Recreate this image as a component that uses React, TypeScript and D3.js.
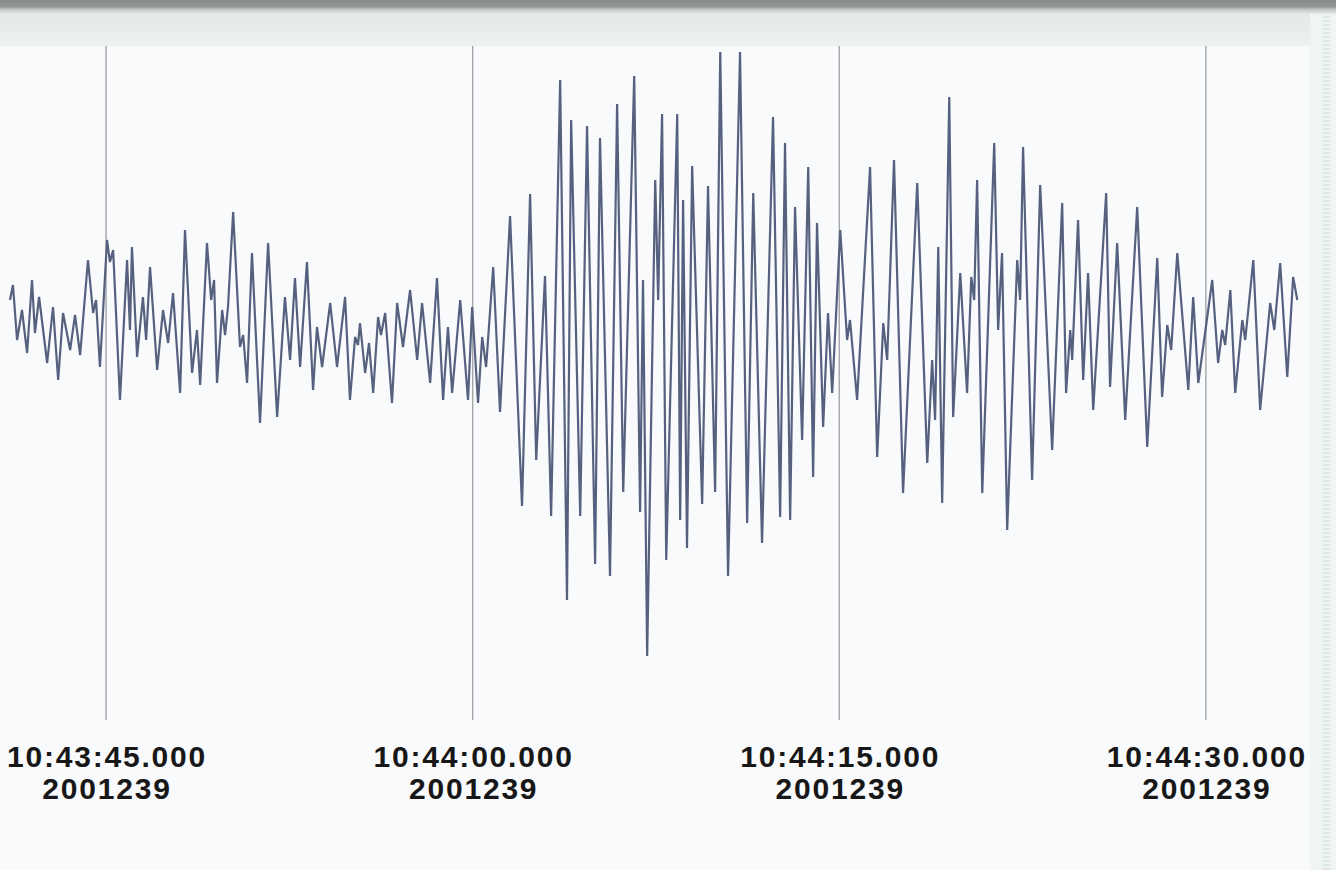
import React, { useEffect, useRef } from "react";
import * as d3 from "d3";

// seismogram trace, 2001 day 239; time in seconds after 10:43:45.000, amplitude in counts
const sampleTimes = [
  -3.93, -3.81, -3.64, -3.44, -3.23, -3.03, -2.91, -2.74, -2.41, -2.17, -1.96, -1.76, -1.47, -1.27, -1.06, -0.74,
  -0.53, -0.41, -0.25, 0.04, 0.16, 0.29, 0.57, 0.86, 0.98, 1.06, 1.27, 1.51, 1.64, 1.8, 2.09, 2.33,
  2.54, 2.74, 3.03, 3.23, 3.52, 3.72, 3.85, 4.13, 4.3, 4.42, 4.54, 4.75, 4.87, 4.99, 5.2, 5.48,
  5.61, 5.77, 5.97, 6.3, 6.63, 7.0, 7.32, 7.53, 7.73, 7.94, 8.22, 8.47, 8.63, 8.84, 9.17, 9.45,
  9.78, 9.98, 10.19, 10.31, 10.39, 10.6, 10.76, 10.93, 11.13, 11.25, 11.42, 11.7, 11.91, 12.15, 12.44, 12.73,
  12.93, 13.26, 13.54, 13.79, 13.99, 14.16, 14.49, 14.81, 14.98, 15.22, 15.39, 15.55, 15.84, 16.12, 16.53, 17.02,
  17.35, 17.6, 17.96, 18.21, 18.58, 18.86, 19.03, 19.4, 19.68, 20.01, 20.21, 20.62, 20.91, 21.16, 21.61, 21.85,
  21.97, 22.14, 22.47, 22.59, 22.75, 22.92, 23.37, 23.49, 23.61, 23.77, 23.98, 24.39, 24.63, 24.92, 25.13, 25.45,
  25.94, 26.23, 26.48, 26.84, 27.29, 27.58, 27.78, 27.99, 28.19, 28.48, 28.73, 28.93, 29.09, 29.34, 29.54, 29.71,
  30.04, 30.32, 30.44, 30.73, 31.26, 31.55, 31.8, 31.96, 32.24, 32.61, 33.19, 33.6, 33.8, 33.92, 34.05, 34.21,
  34.5, 34.66, 34.95, 35.23, 35.4, 35.52, 35.64, 35.85, 36.34, 36.5, 36.66, 36.87, 37.28, 37.4, 37.52, 37.89,
  38.22, 38.71, 39.12, 39.28, 39.45, 39.53, 39.77, 39.98, 40.18, 40.39, 40.92, 41.08, 41.37, 41.7, 42.19, 42.6,
  43.01, 43.21, 43.42, 43.58, 43.83, 44.28, 44.48, 44.69, 45.26, 45.5, 45.67, 45.79, 46.0, 46.2, 46.49, 46.61,
  46.94, 47.22, 47.63, 47.8, 48.04, 48.33, 48.57, 48.74,
];

const amplitudes = [
  35, 50, -5, 25, -18, 55, 2, 38, -28, 28, -45, 22, -15, 20, -20, 75,
  22, 35, -32, 95, 73, 85, -65, 75, 5, 88, -22, 38, -5, 68, -35, 25,
  -8, 42, -58, 105, -38, 5, -50, 92, 35, 55, -48, 25, 0, 28, 123, -12,
  0, -48, 82, -88, 92, -82, 38, -25, 57, -32, 73, -55, 8, -32, 32, -32,
  38, -65, -2, -10, 12, -38, -8, -58, 18, 0, 22, -68, 32, -12, 45, -25,
  32, -48, 57, -65, 8, -58, 35, -65, 28, -68, -2, -32, 68, -77, 119, -171,
  141, -125, 59, -181, 255, -265, 215, -181, 209, -229, 197, -241, 231, -157, 259, -177,
  55, -321, 155, 35, 221, -225, 221, -185, 135, -213, 169, -169, 149, -157, 283, -241,
  283, -188, 142, -208, 218, -182, 192, -185, 128, -105, 168, -142, 112, -92, 22, -58,
  105, -5, 15, -65, 168, -122, 12, -25, 175, -158, 152, -128, -25, -85, 88, -168,
  238, -82, 62, -58, 58, 35, 155, -158, 192, 5, 82, -195, 75, 35, 188, -145,
  150, -115, 132, -58, 5, -25, 115, -45, 62, -75, 142, -52, 92, -85, 128, -112,
  77, -62, 10, -15, 82, -55, 38, -48, 55, -28, 5, -10, 45, -58, 15, -5,
  75, -75, 32, 5, 72, -42, 58, 35,
];

const tickStepSeconds = 15;

const W = 1336;
const H = 870;

export default function App() {
  const svgRef = useRef<SVGSVGElement | null>(null);

  useEffect(() => {
    const svg = d3.select(svgRef.current);
    svg.selectAll("*").remove();

    const t0 = Date.UTC(2001, 7, 27, 10, 43, 45);
    const toDate = (s: number) => new Date(t0 + s * 1000);

    const x = d3
      .scaleUtc()
      .domain([toDate(-3.93), toDate(49.26)])
      .range([10, 1310]);
    const y = d3.scaleLinear().domain([-400, 300]).range([735, 35]);

    const defs = svg.append("defs");
    const band = defs
      .append("linearGradient")
      .attr("id", "band")
      .attr("x1", 0)
      .attr("y1", 0)
      .attr("x2", 0)
      .attr("y2", 1);
    [
      [0, "#878b88"],
      [0.15, "#969a97"],
      [0.2, "#bfc4c1"],
      [0.3, "#e4e9e6"],
      [1, "#edf2ef"],
    ].forEach(([o, c]) => band.append("stop").attr("offset", o).attr("stop-color", c));

    const stripe = defs
      .append("pattern")
      .attr("id", "stripe")
      .attr("width", 26)
      .attr("height", 4)
      .attr("patternUnits", "userSpaceOnUse")
      .attr("x", 1310);
    stripe.append("rect").attr("width", 26).attr("height", 4).attr("fill", "#f0f4f2");
    stripe
      .append("rect")
      .attr("x", 12)
      .attr("y", 0)
      .attr("width", 8)
      .attr("height", 2)
      .attr("fill", "#dce8e2");

    // backgrounds
    svg.append("rect").attr("width", W).attr("height", H).attr("fill", "#f8fafb");
    svg.append("rect").attr("width", W).attr("height", 46).attr("fill", "url(#band)");

    // vertical time grid
    const ticks = x.ticks(d3.utcSecond.every(tickStepSeconds) as any);
    svg
      .append("g")
      .selectAll("line")
      .data(ticks)
      .join("line")
      .attr("x1", (d) => x(d))
      .attr("x2", (d) => x(d))
      .attr("y1", 46)
      .attr("y2", 720)
      .attr("stroke", "#a3a5a8")
      .attr("stroke-width", 1.4);

    // trace
    const pts = sampleTimes.map((s, i) => [toDate(s), amplitudes[i]] as [Date, number]);
    const line = d3
      .line<[Date, number]>()
      .x((d) => x(d[0]))
      .y((d) => y(d[1]));
    svg
      .append("path")
      .attr("d", line(pts))
      .attr("fill", "none")
      .attr("stroke", "#56617f")
      .attr("stroke-width", 2.2)
      .attr("stroke-linejoin", "miter")
      .attr("stroke-miterlimit", 3);

    // labels
    const fmtTime = d3.utcFormat("%H:%M:%S.%L");
    const fmtDay = d3.utcFormat("%Y%j");
    const lab = svg
      .append("g")
      .attr("font-family", "'Liberation Sans', Arial, Helvetica, sans-serif")
      .attr("font-weight", "bold")
      .attr("font-size", 30)
      .attr("letter-spacing", 1.8)
      .attr("fill", "#171717")
      .attr("text-anchor", "middle");
    lab
      .selectAll("text.t")
      .data(ticks)
      .join("text")
      .attr("class", "t")
      .attr("x", (d) => x(d) + 1)
      .attr("y", 767)
      .text((d) => fmtTime(d));
    lab
      .selectAll("text.d")
      .data(ticks)
      .join("text")
      .attr("class", "d")
      .attr("x", (d) => x(d) + 1)
      .attr("y", 799)
      .text((d) => fmtDay(d));

    // right strip
    svg
      .append("rect")
      .attr("x", 1310)
      .attr("y", 14)
      .attr("width", W - 1310)
      .attr("height", H - 14)
      .attr("fill", "url(#stripe)");
  }, []);

  return (
    <svg
      ref={svgRef}
      width={W}
      height={H}
      style={{ position: "absolute", left: 0, top: 0, display: "block" }}
    />
  );
}
